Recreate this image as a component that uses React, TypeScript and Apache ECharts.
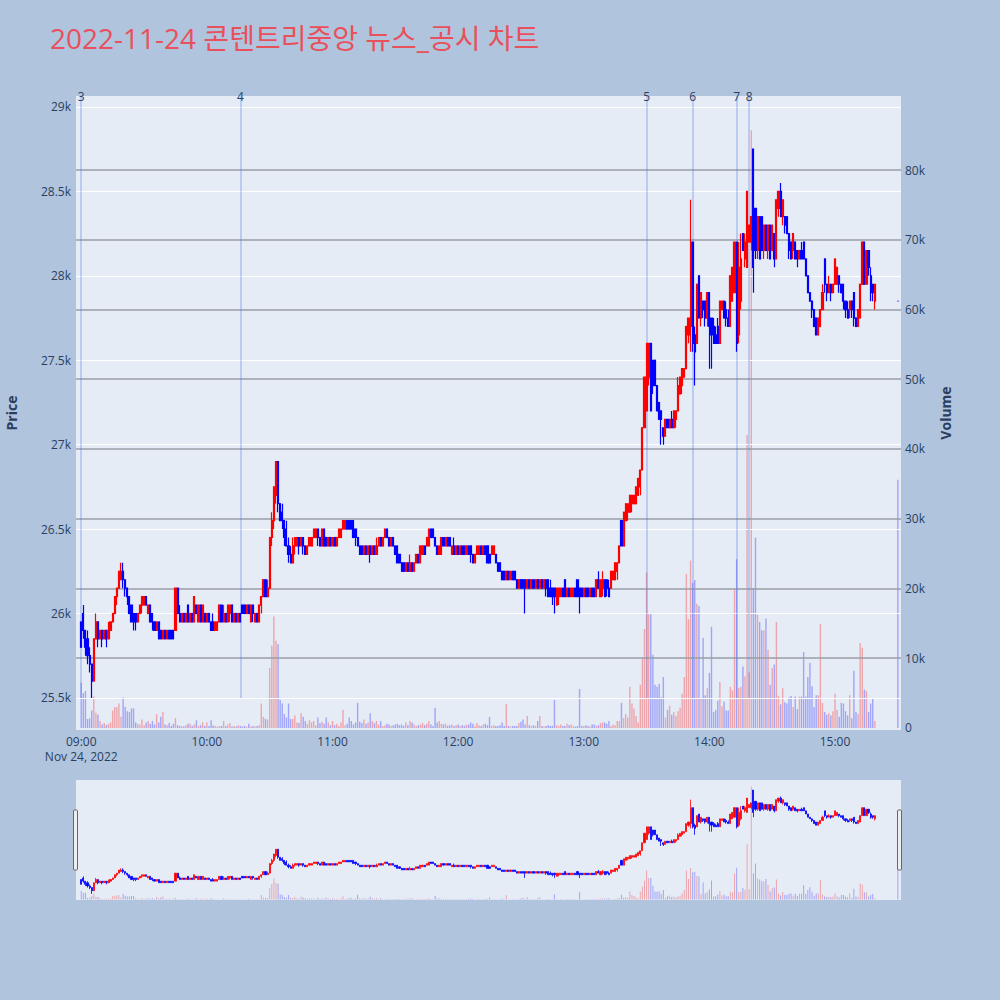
import React, { useEffect, useRef } from 'react';
import * as echarts from 'echarts';

const TITLE = '2022-11-24 콘텐트리중앙 뉴스_공시 차트';
const DATE_LABEL = 'Nov 24, 2022';
const priceTicks = [25500, 26000, 26500, 27000, 27500, 28000, 28500, 29000];
const volumeTicks = [0, 10000, 20000, 30000, 40000, 50000, 60000, 70000, 80000];
const newsTimes = ['09:00', '10:16', '13:30', '13:52', '14:13', '14:19'];
const newsLabels = ['3', '4', '5', '6', '7', '8'];
const sessionStart = '09:00';
const closeAuctionTime = '15:30';

// [open, close, low, high] per minute
const ohlc09 = [
  [25950,25800,25800,25950],[26000,25900,25850,26050],[25900,25800,25750,25900],[25850,25750,25700,25900],[25750,25700,25650,25800],
  [25700,25600,25500,25700],[25600,25850,25600,25850],[25850,25950,25850,26000],[25950,25850,25800,25950],[25850,25900,25850,25900],
  [25900,25850,25800,25900],[25850,25900,25850,25900],[25900,25850,25800,25900],[25850,25900,25850,25950],[25900,25950,25900,25950],
  [25950,26000,25950,26000],[26000,26100,26000,26100],[26100,26150,26050,26150],[26150,26250,26150,26250],[26200,26250,26200,26300],
  [26250,26200,26150,26300],[26200,26150,26100,26200],[26150,26100,26050,26150],[26100,26000,26000,26100],[26050,25950,25950,26050],
  [26000,25950,25900,26000],[26000,25950,25900,26000],[25950,26000,25950,26000],[26000,26050,26000,26050],[26050,26100,26000,26100],
  [26050,26100,26050,26100],[26100,26050,26050,26100],[26000,26050,26000,26050],[26050,25950,25950,26050],[26000,25950,25900,26000],
  [25950,25900,25900,25950],[25900,25950,25900,25950],[25950,25850,25850,25950],[25900,25850,25850,25900],[25850,25900,25850,25900],
  [25900,25850,25850,25900],[25850,25900,25850,25900],[25900,25850,25850,25900],[25900,25850,25850,25900],[25900,25850,25850,25900],
  [25900,26150,25900,26150],[26150,26000,26000,26150],[26000,25950,25950,26050],[25950,26000,25950,26000],[26000,25950,25950,26000],
  [25950,26000,25950,26000],[26050,25950,25950,26050],[25950,26000,25950,26000],[26000,25950,25950,26000],[25950,26100,25950,26100],
  [26050,26000,26000,26050],[25950,26050,25950,26050],[26050,25950,25950,26050],[25950,26050,25950,26050],[26000,25950,25950,26000],
];
const ohlc10 = [
  [25950,26000,25950,26000],[26000,25950,25950,26000],[25950,25900,25900,25950],[25950,25900,25900,26000],[25900,25950,25900,25950],
  [25900,25950,25900,25950],[25950,26050,25950,26050],[26050,25950,25950,26050],[25950,26000,25950,26050],[26000,25950,25950,26000],
  [25950,26050,25950,26050],[26000,26050,25950,26050],[26050,25950,25950,26050],[25950,26000,25950,26000],[26000,25950,25950,26000],
  [25950,26000,25950,26000],[26000,25950,25950,26000],[26050,26000,26000,26050],[26050,26000,26000,26050],[26000,26050,26000,26050],
  [26050,26000,26000,26050],[25950,26050,25950,26050],[26050,26000,25950,26050],[25950,26000,25950,26000],[26000,25950,25950,26000],
  [25950,26050,25950,26050],[26050,26100,26000,26100],[26100,26200,26100,26200],[26200,26100,26100,26200],[26100,26150,26100,26200],
  [26150,26450,26150,26450],[26450,26550,26400,26600],[26550,26750,26500,26750],[26700,26900,26650,26900],[26900,26650,26600,26900],
  [26650,26550,26550,26650],[26600,26550,26500,26650],[26550,26450,26400,26550],[26500,26400,26400,26550],[26400,26350,26300,26450],
  [26350,26300,26300,26400],[26300,26400,26300,26450],[26400,26450,26350,26450],[26400,26450,26400,26450],[26450,26400,26350,26450],
  [26400,26450,26400,26450],[26450,26400,26350,26450],[26400,26350,26350,26400],[26350,26400,26350,26400],[26400,26450,26400,26450],
  [26400,26450,26400,26450],[26450,26500,26450,26500],[26450,26500,26450,26500],[26500,26450,26400,26500],[26450,26400,26400,26450],
  [26400,26500,26400,26500],[26500,26400,26400,26500],[26450,26400,26400,26450],[26400,26450,26400,26450],[26450,26400,26400,26450],
];
const ohlc11 = [
  [26400,26450,26400,26450],[26450,26400,26400,26450],[26400,26450,26400,26450],[26450,26500,26450,26500],[26450,26500,26450,26500],
  [26500,26550,26500,26550],[26500,26550,26500,26550],[26550,26500,26500,26550],[26550,26500,26500,26550],[26550,26500,26500,26550],
  [26550,26450,26450,26550],[26500,26450,26400,26500],[26450,26400,26400,26450],[26400,26350,26350,26400],[26400,26350,26350,26400],
  [26350,26400,26350,26400],[26400,26350,26350,26400],[26350,26400,26350,26400],[26400,26350,26300,26400],[26350,26400,26350,26400],
  [26400,26350,26350,26400],[26350,26400,26350,26450],[26400,26450,26400,26450],[26450,26400,26400,26450],[26400,26450,26400,26450],
  [26450,26500,26450,26500],[26500,26450,26450,26500],[26450,26400,26400,26450],[26400,26450,26400,26450],[26450,26400,26400,26450],
  [26400,26350,26350,26400],[26400,26300,26300,26400],[26350,26300,26300,26350],[26300,26250,26250,26300],[26300,26250,26250,26300],
  [26250,26300,26250,26300],[26300,26250,26250,26300],[26250,26300,26250,26350],[26300,26250,26250,26300],[26250,26300,26250,26300],
  [26300,26350,26300,26350],[26350,26300,26300,26350],[26300,26400,26300,26400],[26350,26400,26350,26400],[26400,26350,26350,26400],
  [26400,26450,26400,26450],[26400,26500,26400,26500],[26500,26450,26450,26500],[26500,26450,26450,26500],[26450,26400,26400,26450],
  [26400,26350,26350,26400],[26350,26400,26350,26400],[26350,26450,26350,26450],[26450,26400,26400,26450],[26400,26450,26400,26450],
  [26450,26400,26400,26450],[26450,26400,26400,26450],[26350,26400,26350,26400],[26400,26350,26350,26450],[26350,26400,26350,26400],
];
const ohlc12 = [
  [26400,26350,26350,26400],[26350,26400,26350,26400],[26400,26350,26350,26400],[26400,26350,26350,26400],[26350,26400,26350,26400],
  [26400,26350,26350,26400],[26400,26350,26300,26400],[26350,26300,26300,26350],[26300,26350,26300,26350],[26350,26400,26350,26400],
  [26350,26400,26350,26400],[26400,26350,26350,26400],[26350,26400,26350,26400],[26400,26350,26350,26400],[26400,26300,26300,26400],
  [26350,26300,26300,26350],[26350,26400,26350,26400],[26350,26400,26350,26400],[26350,26300,26300,26350],[26300,26250,26250,26300],
  [26300,26250,26250,26300],[26250,26200,26200,26250],[26250,26200,26200,26250],[26200,26250,26200,26250],[26250,26200,26200,26250],
  [26200,26250,26200,26250],[26250,26200,26200,26250],[26250,26200,26200,26250],[26200,26150,26150,26200],[26150,26200,26150,26200],
  [26200,26150,26150,26200],[26200,26150,26150,26200],[26200,26150,26000,26200],[26150,26200,26150,26200],[26200,26150,26150,26200],
  [26150,26200,26150,26200],[26200,26150,26150,26200],[26150,26200,26150,26200],[26200,26150,26150,26200],[26150,26200,26150,26200],
  [26200,26150,26150,26200],[26150,26200,26150,26200],[26200,26150,26100,26200],[26200,26100,26100,26200],[26150,26100,26100,26200],
  [26150,26100,26050,26150],[26150,26100,26000,26150],[26050,26150,26050,26150],[26100,26150,26050,26150],[26100,26150,26100,26150],
  [26150,26100,26100,26150],[26200,26100,26100,26200],[26100,26150,26100,26150],[26150,26100,26100,26150],[26100,26150,26100,26150],
  [26100,26150,26100,26150],[26150,26100,26100,26150],[26200,26100,26100,26200],[26150,26100,26000,26150],[26150,26100,26100,26150],
];
const ohlc13 = [
  [26100,26150,26100,26150],[26150,26100,26100,26150],[26150,26100,26100,26150],[26100,26150,26100,26150],[26150,26100,26100,26150],
  [26150,26100,26100,26150],[26100,26200,26100,26200],[26200,26150,26150,26250],[26100,26200,26100,26200],[26150,26200,26100,26250],
  [26200,26100,26100,26200],[26200,26150,26100,26200],[26150,26100,26100,26200],[26150,26250,26150,26250],[26200,26250,26200,26250],
  [26200,26300,26200,26300],[26250,26300,26200,26300],[26300,26400,26300,26400],[26550,26400,26400,26550],[26400,26600,26400,26600],
  [26550,26650,26550,26650],[26600,26650,26550,26650],[26600,26700,26600,26700],[26650,26700,26600,26700],[26650,26700,26650,26700],
  [26650,26750,26650,26750],[26700,26800,26700,26800],[26750,26850,26700,26850],[26850,27100,26850,27100],[27100,27400,27100,27400],
  [27200,27600,27200,27600],[27400,27600,27350,27600],[27600,27200,27200,27600],[27500,27350,27300,27500],[27500,27350,27350,27500],
  [27350,27200,27200,27350],[27250,27150,27150,27250],[27200,27150,27000,27200],[27100,27050,27000,27100],[27050,27150,27050,27150],
  [27150,27100,27100,27150],[27100,27150,27100,27150],[27150,27100,27100,27200],[27100,27200,27100,27200],[27150,27200,27100,27200],
  [27200,27350,27200,27400],[27300,27400,27300,27400],[27350,27450,27300,27450],[27400,27450,27400,27450],[27450,27700,27450,27700],
  [27650,27750,27600,27750],[27700,28200,27550,28450],[28200,27600,27550,28200],[27650,27550,27350,27700],[27600,27950,27600,27950],
  [28000,27750,27750,28000],[27750,27900,27700,27900],[27850,27800,27750,27850],[27850,27750,27700,27850],[27750,27900,27700,27900],
];
const ohlc14 = [
  [27900,27700,27450,27900],[27750,27650,27450,27750],[27700,27600,27600,27750],[27650,27600,27600,27700],[27700,27600,27600,27750],
  [27600,27850,27600,27850],[27800,27850,27800,27850],[27850,27750,27750,27850],[27800,27750,27700,27850],[27750,27700,27700,27800],
  [27700,28000,27700,28000],[27850,28050,27850,28050],[27900,28200,27900,28200],[28200,27600,27550,28200],[27650,28050,27600,28200],
  [27850,28100,27800,28250],[28250,28150,28150,28250],[28100,28200,28050,28250],[28050,28500,28050,28500],[28200,28300,28200,28300],
  [28200,28350,28150,28350],[28750,28050,27900,28750],[28400,28150,28100,28400],[28150,28350,28100,28350],[28350,28100,28100,28350],
  [28350,28150,28150,28350],[28150,28300,28100,28300],[28300,28150,28150,28300],[28150,28300,28100,28300],[28300,28100,28100,28300],
  [28150,28300,28150,28300],[28250,28100,28050,28250],[28100,28450,28100,28450],[28400,28500,28350,28500],[28500,28350,28350,28550],
  [28350,28450,28300,28450],[28350,28300,28250,28350],[28350,28250,28250,28350],[28250,28150,28100,28250],[28200,28100,28100,28200],
  [28150,28250,28100,28250],[28200,28100,28100,28200],[28150,28100,28050,28150],[28100,28150,28100,28150],[28150,28100,28100,28200],
  [28200,28100,28100,28200],[28100,28000,28000,28100],[28000,27900,27900,28000],[27900,27850,27850,27900],[27850,27800,27750,27850],
  [27800,27700,27700,27800],[27750,27650,27650,27750],[27650,27750,27650,27750],[27700,27800,27700,27800],[27800,27900,27800,27950],
  [28100,27950,27900,28100],[27950,27900,27850,27950],[27900,27950,27900,28000],[27950,27900,27850,27950],[27900,27950,27900,27950],
];
const ohlc15 = [
  [27950,28100,27950,28100],[27950,28050,27950,28050],[28000,27950,27900,28000],[27950,27900,27900,27950],[27950,27850,27800,27950],
  [27850,27800,27750,27850],[27800,27750,27750,27850],[27800,27850,27750,27850],[27850,27800,27750,27850],[27900,27750,27700,27900],
  [27750,27700,27700,27750],[27700,27800,27700,27800],[27750,27950,27750,27950],[27950,28200,27950,28200],[28200,27950,27950,28200],
  [27950,28150,27950,28150],[28150,28050,28000,28150],[28000,27900,27850,28050],[27950,27900,27850,27950],[27850,27950,27800,27950],
];
const closeAuction = [27850, 27850, 27850, 27850];

const vol09 = [6500,5000,5300,1300,1400,2500,4500,2200,1900,1000, 500,700,400,600,800,2500,3000,3000,3500,1600,
  4400,3000,2400,2300,2800,2800,800,600,500,1200, 400,800,1000,600,1000,500,2000,800,1600,2300,
  500,400,700,300,600,1400,400,300,300,200, 400,600,600,300,500,1100,300,400,800,300];
const vol10 = [800,300,1100,400,300,200,300,300,1000,300, 500,700,200,300,200,400,300,200,300,200,
  600,200,300,200,300,400,3500,1600,1300,1200, 8600,11800,16000,12500,12000,4000,3500,2000,1500,3500,
  1300,1300,1800,800,700,2100,1600,1000,600,1100, 800,1000,400,1500,700,900,600,1500,800,400];
const vol11 = [1000,400,600,300,800,2600,400,600,1500,1000, 500,800,3600,900,700,1200,600,800,2100,1000,
  700,1000,500,1000,300,400,600,500,300,400, 500,600,400,500,300,800,400,1000,800,500,
  300,400,500,700,400,600,1000,500,300,2900, 800,1000,600,500,600,300,400,500,300,400];
const vol12 = [500,300,400,300,500,500,800,600,300,700, 400,300,500,600,400,1600,300,400,300,300,
  400,800,300,3400,300,200,300,300,300,700, 900,1200,500,1700,400,300,400,300,1000,1700,
  300,200,300,400,300,300,4000,400,300,500, 300,300,600,400,500,300,200,300,5600,300];
const vol13 = [300,400,300,200,500,500,300,400,700,800, 800,600,1000,300,500,400,1000,1000,3600,1400,
  2000,1500,5900,3500,2800,1700,800,6200,10000,14200, 22300,16300,16300,10500,6200,5900,6300,4400,7300,1500,
  2600,3200,1900,2300,1700,2400,2900,4900,7300,22100, 15600,24000,20800,21200,17800,17500,4300,12900,4700,5700];
const vol14 = [7900,14500,2300,2600,3900,6600,3100,3800,2500,2500, 5900,5400,19800,24200,5700,5900,8800,7400,42000,8000,
  85700,20000,27300,16200,15200,14000,14000,15700,11200,6200, 8600,9100,15200,4600,3400,5700,3700,3500,4400,4600,
  3000,4500,2700,4500,4500,10900,4500,7300,9300,6000, 3000,4700,4700,14900,3600,2300,1900,2100,1800,2400];
const vol15 = [4900,2600,1600,3600,3500,2400,1800,4700,1400,8200, 2300,2000,12200,11500,5500,5300,2300,3500,4200,1000];
const closeAuctionVolume = 35600;

const FONT = "'Open Sans', 'Noto Sans CJK KR', sans-serif";
const TEXT = '#2a3f5f';
const PRICE_MIN = 25310, PRICE_MAX = 29065;
const VOL_MIN = -290, VOL_MAX = 90610;

const pad = (n: number) => (n < 10 ? '0' + n : '' + n);
const minuteLabel = (m: number) => { const t = 540 + m; return pad(Math.floor(t / 60)) + ':' + pad(t % 60); };

export default function App() {
  const ref = useRef<HTMLDivElement>(null);
  useEffect(() => {
    if (!ref.current) return;
    const chart = echarts.init(ref.current, undefined, { renderer: 'svg' });
    const categories: string[] = [];
    for (let m = -2; m <= 391; m++) categories.push(minuteLabel(m));
    const session = [...ohlc09, ...ohlc10, ...ohlc11, ...ohlc12, ...ohlc13, ...ohlc14, ...ohlc15];
    const sessionVol = [...vol09, ...vol10, ...vol11, ...vol12, ...vol13, ...vol14, ...vol15];
    const candleData: any[] = categories.map(() => '-');
    const volData: any[] = categories.map(() => '-');
    const startIdx = categories.indexOf(sessionStart);
    const isUp = (c: number[]) => c[1] > c[0];
    session.forEach((c, i) => {
      candleData[startIdx + i] = c;
      volData[startIdx + i] = { value: sessionVol[i], itemStyle: { color: isUp(c) ? 'rgba(255,0,0,0.3)' : 'rgba(0,0,255,0.3)' } };
    });
    const caIdx = categories.indexOf(closeAuctionTime);
    candleData[caIdx] = closeAuction;
    volData[caIdx] = { value: closeAuctionVolume, itemStyle: { color: 'rgba(0,0,255,0.3)' } };

    const candleStyle = (w: number) => ({ color: '#ff0000', color0: '#0000ff', borderColor: '#ff0000', borderColor0: '#0000ff', borderColorDoji: '#0000ff', borderWidth: w });

    chart.setOption({
      animation: false,
      backgroundColor: '#b0c4de',
      textStyle: { fontFamily: FONT },
      title: { text: TITLE, left: 45, top: 19, textStyle: { fontSize: 28, fontWeight: 'normal', color: '#e8505b', fontFamily: FONT } },
      grid: [
        { left: 76, top: 96, width: 825, height: 634, show: true, backgroundColor: '#e5ecf6', borderWidth: 0, outerBoundsMode: 'none', containLabel: false },
        { left: 76, top: 780, width: 825, height: 120, show: true, backgroundColor: '#e5ecf6', borderWidth: 0, outerBoundsMode: 'none', containLabel: false },
      ],
      xAxis: [
        {
          type: 'category', gridIndex: 0, data: categories, boundaryGap: true,
          axisLine: { show: false }, axisTick: { show: false }, splitLine: { show: false },
          axisLabel: {
            interval: (_i: number, v: string) => v.endsWith(':00'),
            formatter: (v: string) => (v === sessionStart ? v + '\n' + DATE_LABEL : v),
            color: TEXT, fontSize: 12, margin: 4, lineHeight: 15, fontFamily: FONT,
          },
        },
        { type: 'category', gridIndex: 1, data: categories, boundaryGap: true, show: false },
      ],
      yAxis: [
        {
          type: 'value', gridIndex: 0, position: 'left', min: PRICE_MIN, max: PRICE_MAX,
          axisLine: { show: false }, axisTick: { show: false }, splitLine: { show: false },
          axisLabel: { customValues: priceTicks, formatter: (v: number) => v / 1000 + 'k', color: TEXT, fontSize: 12, margin: 5, fontFamily: FONT },
          name: 'Price', nameLocation: 'middle', nameRotate: 90, nameGap: 58,
          nameTextStyle: { fontWeight: 'bold', fontSize: 14, color: TEXT, fontFamily: FONT },
        },
        {
          type: 'value', gridIndex: 0, position: 'right', min: VOL_MIN, max: VOL_MAX,
          axisLine: { show: false }, axisTick: { show: false }, splitLine: { show: false },
          axisLabel: { customValues: volumeTicks, formatter: (v: number) => (v === 0 ? '0' : v / 1000 + 'k'), color: TEXT, fontSize: 12, margin: 4, fontFamily: FONT },
          name: 'Volume', nameLocation: 'middle', nameRotate: 90, nameGap: 37,
          nameTextStyle: { fontWeight: 'bold', fontSize: 14, color: TEXT, fontFamily: FONT },
        },
        { type: 'value', gridIndex: 1, min: PRICE_MIN, max: PRICE_MAX, show: false, splitLine: { show: false } },
        { type: 'value', gridIndex: 1, min: VOL_MIN, max: VOL_MAX, show: false, splitLine: { show: false } },
      ],
      series: [
        {
          type: 'line', xAxisIndex: 0, yAxisIndex: 1, data: [], z: 0, silent: true,
          markLine: { silent: true, symbol: ['none', 'none'], label: { show: false },
            lineStyle: { color: '#9a9ea6', width: 1.5, type: 'solid' },
            data: volumeTicks.filter((v) => v > 0).map((v) => ({ yAxis: v })) },
        },
        {
          type: 'line', xAxisIndex: 0, yAxisIndex: 0, data: [], z: 1, silent: true,
          markLine: { silent: true, symbol: ['none', 'none'], label: { show: false },
            lineStyle: { color: '#ffffff', width: 1, type: 'solid' },
            data: priceTicks.map((v) => ({ yAxis: v })) },
        },
        { type: 'bar', xAxisIndex: 0, yAxisIndex: 1, data: volData, barWidth: 1.4, z: 2, silent: true },
        {
          type: 'line', xAxisIndex: 0, yAxisIndex: 0, data: [], z: 3, silent: true,
          markLine: {
            silent: true, symbol: ['none', 'none'],
            lineStyle: { color: 'rgba(65,105,225,0.35)', width: 1.5, type: 'solid' },
            label: { show: true, position: 'end', color: TEXT, fontSize: 12, distance: -6, fontFamily: FONT },
            data: newsTimes.map((t, i) => [
              { xAxis: t, yAxis: priceTicks[0], label: { formatter: newsLabels[i] } },
              { xAxis: t, yAxis: PRICE_MAX },
            ]),
          },
        },
        { type: 'candlestick', xAxisIndex: 0, yAxisIndex: 0, data: candleData, barWidth: 1.6, itemStyle: candleStyle(1.2), z: 5, silent: true },
        { type: 'bar', xAxisIndex: 1, yAxisIndex: 3, data: volData, barWidth: 1, z: 2, silent: true },
        { type: 'candlestick', xAxisIndex: 1, yAxisIndex: 2, data: candleData, barWidth: 1.6, itemStyle: candleStyle(0.8), z: 5, silent: true },
      ],
      graphic: [
        { type: 'rect', shape: { x: 73.5, y: 810, width: 4, height: 60, r: 1 }, style: { fill: '#eeeeee', stroke: '#666666', lineWidth: 1 }, z: 100 },
        { type: 'rect', shape: { x: 897.5, y: 810, width: 4, height: 60, r: 1 }, style: { fill: '#eeeeee', stroke: '#666666', lineWidth: 1 }, z: 100 },
      ],
    });
    return () => chart.dispose();
  }, []);
  return <div ref={ref} style={{ position: 'fixed', left: 0, top: 0, width: 1000, height: 1000 }} />;
}
